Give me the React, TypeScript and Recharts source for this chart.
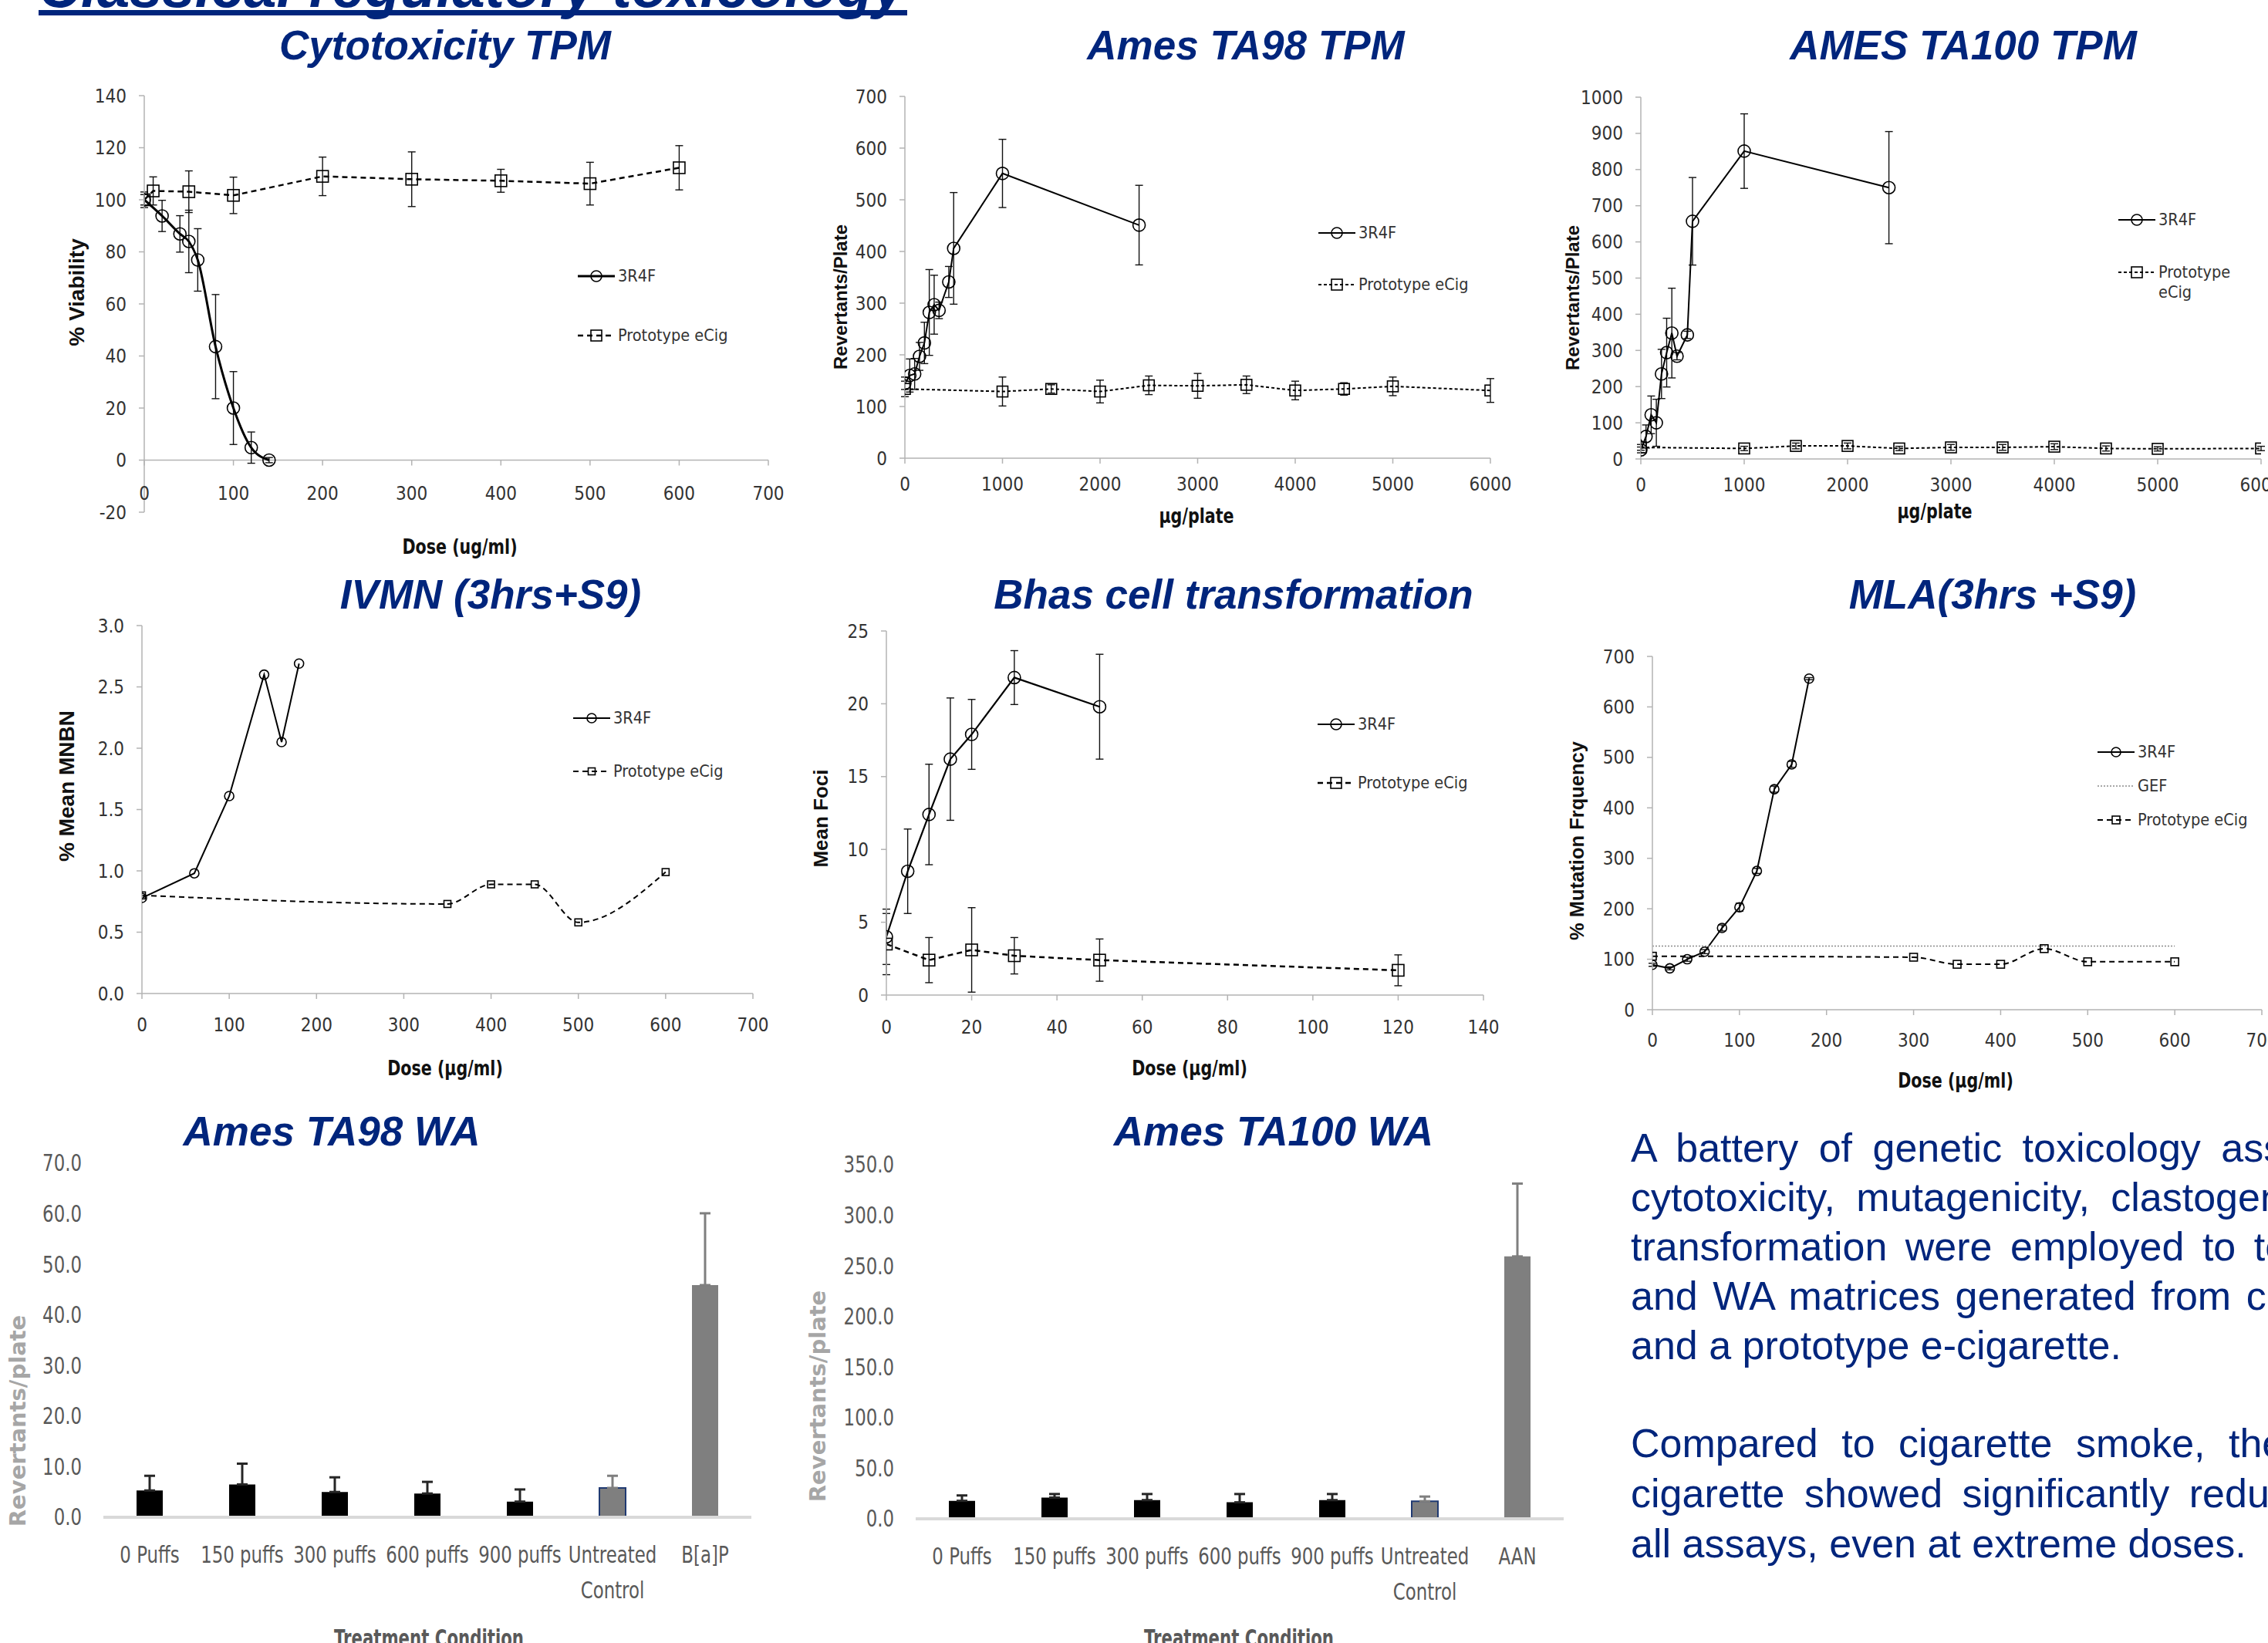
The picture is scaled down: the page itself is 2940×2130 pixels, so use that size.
import React from "react";
import {
  LineChart,
  Line,
  XAxis,
  YAxis,
  ErrorBar,
  Legend,
  ReferenceLine,
  BarChart,
  Bar,
  Cell,
} from "recharts";

const NAVY = "#00257c";
const NARROW = "'Liberation Sans Narrow', 'Arial Narrow', 'DejaVu Sans Condensed', sans-serif";
const SANS = "'Liberation Sans', Arial, sans-serif";
const AXIS = "#b3b3b3";

// --- Cytotoxicity TPM
const cytoDose3R4F = [0, 20, 40, 50, 60, 80, 100, 120, 140];
const cytoVia3R4F = [100, 93.8, 86.9, 84.0, 76.9, 43.6, 20.0, 4.8, 0];
const cytoErr3R4F = [2, 6, 7, 12, 12, 20, 14, 6, 1];
const cytoDoseEcig = [0, 10, 50, 100, 200, 300, 400, 500, 600];
const cytoViaEcig = [100, 103.4, 103.1, 101.7, 109, 107.9, 107.3, 106.2, 112.3];
const cytoErrEcig = [3, 5.4, 8, 7, 7.4, 10.5, 4.4, 8.2, 8.5];
const cytoYTicks = [-20, 0, 20, 40, 60, 80, 100, 120, 140];
const doseTicks700 = [0, 100, 200, 300, 400, 500, 600, 700];

// --- Ames TPM (shared doses)
const amesDose3R4F = [0, 50, 100, 150, 200, 250, 300, 350, 450, 500, 1000, 2400];
const amesDoseEcig = [0, 1000, 1500, 2000, 2500, 3000, 3500, 4000, 4500, 5000, 6000];
const plateTicks = [0, 1000, 2000, 3000, 4000, 5000, 6000];

const ta98Rev3R4F = [145, 160, 163, 197, 223, 282, 297, 286, 341, 406, 551, 451];
const ta98Err3R4F = [12, 32, 30, 27, 40, 83, 57, 16, 30, 108, 66, 77];
const ta98RevEcig = [134, 129, 134, 129, 141, 140, 142, 131, 134, 139, 131];
const ta98ErrEcig = [15, 28, 8, 22, 18, 24, 17, 18, 12, 18, 23];
const ta98YTicks = [0, 100, 200, 300, 400, 500, 600, 700];

const ta100Rev3R4F = [25, 62, 122, 100, 235, 294, 348, 284, 343, 657, 851, 750];
const ta100Err3R4F = [8, 32, 52, 65, 68, 95, 124, 10, 10, 121, 103, 155];
const ta100RevEcig = [32, 29, 36, 36, 29, 32, 32, 34, 29, 28, 29];
const ta100ErrEcig = [8, 6, 8, 8, 6, 8, 8, 8, 7, 6, 6];
const ta100YTicks = [0, 100, 200, 300, 400, 500, 600, 700, 800, 900, 1000];

// --- IVMN
const ivmnDose3R4F = [0, 60, 100, 140, 160, 180];
const ivmn3R4F = [0.78, 0.98, 1.61, 2.6, 2.05, 2.69];
const ivmnDoseEcig = [0, 350, 400, 450, 500, 600];
const ivmnEcig = [0.8, 0.73, 0.89, 0.89, 0.58, 0.99];
const ivmnYTicks = [0, 0.5, 1, 1.5, 2, 2.5, 3];

// --- Bhas
const bhasDose3R4F = [0, 5, 10, 15, 20, 30, 50];
const bhas3R4F = [4.0, 8.5, 12.4, 16.2, 17.9, 21.8, 19.8];
const bhasErr3R4F = [1.9, 2.9, 3.45, 4.2, 2.4, 1.85, 3.6];
const bhasDoseEcig = [0, 10, 20, 30, 50, 120];
const bhasEcig = [3.5, 2.4, 3.1, 2.7, 2.4, 1.7];
const bhasErrEcig = [2.1, 1.55, 2.9, 1.25, 1.45, 1.06];
const bhasYTicks = [0, 5, 10, 15, 20, 25];
const bhasXTicks = [0, 20, 40, 60, 80, 100, 120, 140];

// --- MLA
const mlaDose3R4F = [0, 20, 40, 60, 80, 100, 120, 140, 160, 180];
const mla3R4F = [89, 82, 100, 115, 162, 203, 275, 437, 486, 656];
const mlaErr3R4F = [3, 3, 4, 4, 6, 8, 5, 6, 6, 2];
const gefDose = [0, 600];
const gefLevel = [126, 126];
const mlaDoseEcig = [0, 300, 350, 400, 450, 500, 600];
const mlaEcig = [106, 104, 90, 90, 121, 95, 95];
const mlaYTicks = [0, 100, 200, 300, 400, 500, 600, 700];

// --- Ames WA bar charts
const waGroups = ["WA", "WA", "WA", "WA", "WA", "control", "positive"];
const ta98WaCats = ["0 Puffs", "150 puffs", "300 puffs", "600 puffs", "900 puffs", "Untreated Control", "B[a]P"];
const ta98WaMean = [5.3, 6.5, 5.0, 4.7, 3.1, 5.8, 45.9];
const ta98WaErr = [2.9, 4.1, 2.9, 2.3, 2.4, 2.4, 14.2];
const ta98WaTicks = [0, 10, 20, 30, 40, 50, 60, 70];
const ta100WaCats = ["0 Puffs", "150 puffs", "300 puffs", "600 puffs", "900 puffs", "Untreated Control", "AAN"];
const ta100WaMean = [17.8, 21, 18.5, 16.3, 18.5, 17.4, 259.4];
const ta100WaErr = [5.3, 3.5, 6, 8.2, 6, 4.6, 72];
const ta100WaTicks = [0, 50, 100, 150, 200, 250, 300, 350];

type Pt = { x: number; y: number; e?: number };
const zip = (xs: number[], ys: number[], es?: number[]): Pt[] =>
  xs.map((x, i) => ({ x, y: ys[i], e: es ? es[i] : undefined }));

type SeriesDef = {
  name: string;
  pts: Pt[];
  dash?: string;
  sw: number;
  marker: "circle" | "square" | "none";
  size: number;
  curve?: "linear" | "monotone";
  color?: string;
  err?: boolean;
};
type Box = { x0: number; x1: number; y0: number; y1: number };
type LegendPos = { left: number; top: number; pitch: number; textWidth?: number };

const PAD = { l: 140, r: 50, t: 24, b: 90 };

function Marker({ cx, cy, kind, size, color }: any) {
  if (cx == null || cy == null || kind === "none") return null;
  if (kind === "circle")
    return <circle cx={cx} cy={cy} r={size} fill="none" stroke={color} strokeWidth={1.6} />;
  return (
    <rect x={cx - size} y={cy - size} width={size * 2} height={size * 2} fill="none" stroke={color} strokeWidth={1.6} />
  );
}

// condensed text: squeeze horizontally around its anchor point
function CText({ x, y, sx, children, ...rest }: any) {
  return (
    <text transform={`translate(${x} ${y}) scale(${sx} 1)`} x={0} y={0} {...rest}>
      {children}
    </text>
  );
}

function LegendBox({ series, pos }: { series: SeriesDef[]; pos: LegendPos }) {
  return (
    <div style={{ display: "flex", flexDirection: "column", rowGap: pos.pitch - 26, fontFamily: NARROW, fontSize: 21.5, color: "#333" }}>
      {series.map((s) => (
        <div key={s.name} style={{ display: "flex", alignItems: "flex-start" }}>
          <svg width={48} height={26} style={{ flex: "none" }}>
            <line x1={0} y1={13} x2={48} y2={13} stroke={s.color ?? "#000"} strokeWidth={s.sw} strokeDasharray={s.dash} />
            <Marker cx={24} cy={13} kind={s.marker} size={Math.min(s.size, 7)} color={s.color ?? "#000"} />
          </svg>
          <span style={{ marginLeft: 4, lineHeight: "26px", width: pos.textWidth, whiteSpace: pos.textWidth ? "normal" : "nowrap" }}>
            {s.name}
          </span>
        </div>
      ))}
    </div>
  );
}

function LinePanel(props: {
  box: Box;
  xDomain: [number, number];
  xTicks: number[];
  yDomain: [number, number];
  yTicks: number[];
  yFmt?: (v: number) => string;
  series: SeriesDef[];
  labelGap: number;
  legend: LegendPos;
  zeroAxis?: boolean;
}) {
  const { box, legend } = props;
  const left = box.x0 - PAD.l;
  const top = box.y0 - PAD.t;
  const width = box.x1 - box.x0 + PAD.l + PAD.r;
  const height = box.y1 - box.y0 + PAD.t + PAD.b;
  const [ymin, ymax] = props.yDomain;
  const zeroOff = props.zeroAxis ? ((box.y1 - box.y0) * (0 - ymin)) / (ymax - ymin) : 0;

  const XTick = (p: any) => {
    const ya = p.y - zeroOff;
    return (
      <g>
        <line x1={p.x} x2={p.x} y1={ya} y2={ya + 7} stroke={AXIS} strokeWidth={1.5} />
        <text x={p.x} y={ya + props.labelGap} dy="0.71em" textAnchor="middle" fontSize={24} fontFamily={NARROW} fill="#333">
          {p.payload.value}
        </text>
      </g>
    );
  };

  return (
    <div style={{ position: "absolute", left, top }}>
      <LineChart width={width} height={height} margin={{ top: PAD.t, right: PAD.r, bottom: 0, left: 0 }}>
        <XAxis
          type="number"
          dataKey="x"
          domain={props.xDomain}
          ticks={props.xTicks}
          interval={0}
          allowDataOverflow
          height={PAD.b}
          axisLine={props.zeroAxis ? false : { stroke: AXIS, strokeWidth: 1.5 }}
          tickLine={false}
          tickSize={0}
          tickMargin={0}
          tick={XTick}
        />
        <YAxis
          type="number"
          domain={props.yDomain}
          ticks={props.yTicks}
          interval={0}
          allowDataOverflow
          width={PAD.l}
          axisLine={{ stroke: AXIS, strokeWidth: 1.5 }}
          tickLine={{ stroke: AXIS, strokeWidth: 1.5 }}
          tickSize={7}
          tickMargin={16}
          tick={{ fontSize: 24, fontFamily: NARROW, fill: "#333" }}
          tickFormatter={props.yFmt}
        />
        {props.zeroAxis && <ReferenceLine y={0} stroke={AXIS} strokeWidth={1.5} />}
        {props.series.map((s) => (
          <Line
            key={s.name}
            data={s.pts}
            dataKey="y"
            name={s.name}
            type={s.curve ?? "linear"}
            stroke={s.color ?? "#000"}
            strokeWidth={s.sw}
            strokeDasharray={s.dash}
            dot={(d: any) => (
              <Marker key={`${s.name}-${d.index}`} cx={d.cx} cy={d.cy} kind={s.marker} size={s.size} color={s.color ?? "#000"} />
            )}
            activeDot={false}
            isAnimationActive={false}
          >
            {s.err && <ErrorBar dataKey="e" direction="y" width={5} stroke="#111" strokeWidth={1.4} />}
          </Line>
        ))}
        <Legend
          layout="vertical"
          align="center"
          verticalAlign="middle"
          wrapperStyle={{ left: legend.left - left, top: legend.top - top }}
          content={() => <LegendBox series={props.series} pos={legend} />}
        />
      </LineChart>
    </div>
  );
}

const PADB = { l: 140, r: 30, t: 30, b: 140 };
const SQUEEZE = 0.82;

function BarPanel(props: { box: Box; cats: string[]; means: number[]; errs: number[]; yTicks: number[] }) {
  const { box } = props;
  const left = box.x0 - PADB.l;
  const top = box.y0 - PADB.t;
  const width = box.x1 - box.x0 + PADB.l + PADB.r;
  const height = box.y1 - box.y0 + PADB.t + PADB.b;
  const rows = props.cats.map((c, i) => {
    const wa = waGroups[i] === "WA";
    return {
      c,
      wa: wa ? props.means[i] : null,
      ctl: wa ? null : props.means[i],
      waE: wa ? [0, props.errs[i]] : null,
      ctlE: wa ? null : [0, props.errs[i]],
    };
  });
  const yMax = props.yTicks[props.yTicks.length - 1];

  const BarTick = (p: any) => {
    const v = String(p.payload.value);
    const lines = v.length > 12 ? v.split(" ") : [v];
    return (
      <g>
        {lines.map((l, i) => (
          <CText key={i} x={p.x} y={p.y + 59 + i * 46} sx={SQUEEZE} textAnchor="middle" fontSize={31} fontFamily={NARROW} fill="#595959">
            {l}
          </CText>
        ))}
      </g>
    );
  };
  const YTick = (p: any) => (
    <CText x={p.x} y={p.y} sx={SQUEEZE} textAnchor="end" dominantBaseline="central" fontSize={31} fontFamily={NARROW} fill="#595959">
      {Number(p.payload.value).toFixed(1)}
    </CText>
  );

  return (
    <div style={{ position: "absolute", left, top }}>
      <BarChart width={width} height={height} data={rows} margin={{ top: PADB.t, right: PADB.r, bottom: 0, left: 0 }}>
        <XAxis
          xAxisId="a"
          dataKey="c"
          height={PADB.b}
          interval={0}
          axisLine={{ stroke: "#d9d9d9", strokeWidth: 4 }}
          tickLine={false}
          tickSize={0}
          tickMargin={0}
          tick={BarTick}
        />
        <XAxis xAxisId="b" dataKey="c" hide />
        <YAxis
          domain={[0, yMax]}
          ticks={props.yTicks}
          interval={0}
          allowDataOverflow
          width={PADB.l}
          axisLine={false}
          tickLine={false}
          tickSize={0}
          tickMargin={28}
          tick={YTick}
        />
        <Bar xAxisId="a" dataKey="wa" fill="#000" barSize={34} isAnimationActive={false}>
          <ErrorBar dataKey="waE" direction="y" width={7} stroke="#262626" strokeWidth={3} />
        </Bar>
        <Bar xAxisId="b" dataKey="ctl" fill="#7f7f7f" barSize={34} isAnimationActive={false}>
          {rows.map((r, i) => (
            <Cell key={i} stroke={waGroups[i] === "control" ? "#203a72" : "none"} strokeWidth={2} />
          ))}
          <ErrorBar dataKey="ctlE" direction="y" width={7} stroke="#7f7f7f" strokeWidth={3} />
        </Bar>
      </BarChart>
    </div>
  );
}

const titles: [string, number, number][] = [
  ["Cytotoxicity TPM", 577, 77],
  ["Ames TA98 TPM", 1615, 77],
  ["AMES TA100 TPM", 2545, 77],
  ["IVMN (3hrs+S9)", 636, 789],
  ["Bhas cell transformation", 1599, 789],
  ["MLA(3hrs +S9)", 2583, 789],
  ["Ames TA98 WA", 430, 1485],
  ["Ames TA100 WA", 1651, 1485],
];

const xTitles: [string, number, number][] = [
  ["Dose (ug/ml)", 596, 709],
  ["µg/plate", 1551, 669],
  ["µg/plate", 2508, 663],
  ["Dose (µg/ml)", 577, 1385],
  ["Dose (µg/ml)", 1542, 1385],
  ["Dose (µg/ml)", 2535, 1401],
];

const yTitles: [string, number, number, number][] = [
  ["% Viability", 99, 379, 28],
  ["Revertants/Plate", 1089, 385, 24],
  ["Revertants/Plate", 2038, 386, 24],
  ["% Mean MNBN", 86, 1019, 28],
  ["Mean Foci", 1064, 1061, 26],
  ["% Mutation Frquency", 2044, 1090, 25.5],
];

const paragraph: [string, number, number][] = [
  ["A battery of genetic toxicology assays", 1506, 12],
  ["cytotoxicity, mutagenicity, clastogenicity", 1570, 13],
  ["transformation were employed to test", 1634, 9],
  ["and WA matrices generated from cigarette", 1698, 5],
  ["and a prototype e-cigarette.", 1762, 0],
  ["Compared to cigarette smoke, the", 1889, 16],
  ["cigarette showed significantly reduced", 1954, 11],
  ["all assays, even at extreme doses.", 2019, 0],
];

export default function App() {
  const s3R4F = (pts: Pt[], sw: number, r: number, err: boolean, curve: "linear" | "monotone" = "linear"): SeriesDef => ({
    name: "3R4F", pts, sw, marker: "circle", size: r, err, curve,
  });
  const sEcig = (pts: Pt[], sw: number, dash: string, half: number, err: boolean, curve: "linear" | "monotone" = "linear"): SeriesDef => ({
    name: "Prototype eCig", pts, sw, dash, marker: "square", size: half, err, curve,
  });

  return (
    <div style={{ position: "fixed", left: 0, top: 0, width: 2940, height: 2130, overflow: "hidden", background: "#fff" }}>
      <svg width={2940} height={2130} style={{ position: "absolute", left: 0, top: 0 }}>
        <text x={50} y={9} fontSize={76} fontWeight="bold" fontStyle="italic" fontFamily={SANS} fill={NAVY}>
          Classical regulatory toxicology
        </text>
        <rect x={50} y={13} width={1126} height={7} fill={NAVY} />
        {titles.map(([t, x, y]) => (
          <text key={t} x={x} y={y} textAnchor="middle" fontSize={53} fontWeight="bold" fontStyle="italic" fontFamily={SANS} fill={NAVY}>
            {t}
          </text>
        ))}
        {xTitles.map(([t, x, y], i) => (
          <CText key={i} x={x} y={y} sx={0.85} textAnchor="middle" dominantBaseline="central" fontSize={27} fontWeight="bold" fontFamily={NARROW} fill="#111">
            {t}
          </CText>
        ))}
        {yTitles.map(([t, x, y, fs], i) => (
          <text key={i} x={x} y={y} textAnchor="middle" dominantBaseline="central" fontSize={fs} fontWeight="bold" fontFamily={SANS} fill="#111" transform={`rotate(-90 ${x} ${y})`}>
            {t}
          </text>
        ))}
        {[[556, 2124], [1606, 2124]].map(([x, y], i) => (
          <CText key={i} x={x} y={y} sx={0.74} textAnchor="middle" dominantBaseline="central" fontSize={32} fontWeight="bold" fontFamily={NARROW} fill="#595959">
            Treatment Condition
          </CText>
        ))}
        {[[23, 1842], [1060, 1810]].map(([x, y], i) => (
          <text key={i} x={x} y={y} textAnchor="middle" dominantBaseline="central" fontSize={29} fontWeight="bold" fontFamily="'DejaVu Sans', sans-serif" fill="#a6a6a6" transform={`rotate(-90 ${x} ${y})`}>
            Revertants/plate
          </text>
        ))}
        {paragraph.map(([t, y, ws], i) => (
          <text key={i} x={2114} y={y} fontSize={52} fontFamily={SANS} fill={NAVY} style={{ wordSpacing: ws }}>
            {t}
          </text>
        ))}
      </svg>

      <LinePanel
        box={{ x0: 187, x1: 996, y0: 124, y1: 664 }}
        xDomain={[0, 700]}
        xTicks={doseTicks700}
        yDomain={[-20, 140]}
        yTicks={cytoYTicks}
        labelGap={34}
        zeroAxis
        legend={{ left: 749, top: 345, pitch: 77 }}
        series={[
          s3R4F(zip(cytoDose3R4F, cytoVia3R4F, cytoErr3R4F), 3, 8, true, "monotone"),
          sEcig(zip(cytoDoseEcig, cytoViaEcig, cytoErrEcig), 2.5, "7 5", 7.5, true),
        ]}
      />
      <LinePanel
        box={{ x0: 1173, x1: 1932, y0: 125, y1: 594 }}
        xDomain={[0, 6000]}
        xTicks={plateTicks}
        yDomain={[0, 700]}
        yTicks={ta98YTicks}
        labelGap={25}
        legend={{ left: 1709, top: 289, pitch: 67 }}
        series={[
          s3R4F(zip(amesDose3R4F, ta98Rev3R4F, ta98Err3R4F), 2, 8, true),
          sEcig(zip(amesDoseEcig, ta98RevEcig, ta98ErrEcig), 2, "4 3", 7, true),
        ]}
      />
      <LinePanel
        box={{ x0: 2127, x1: 2931, y0: 126, y1: 595 }}
        xDomain={[0, 6000]}
        xTicks={plateTicks}
        yDomain={[0, 1000]}
        yTicks={ta100YTicks}
        labelGap={25}
        legend={{ left: 2746, top: 272, pitch: 68, textWidth: 100 }}
        series={[
          s3R4F(zip(amesDose3R4F, ta100Rev3R4F, ta100Err3R4F), 2, 8, true),
          sEcig(zip(amesDoseEcig, ta100RevEcig, ta100ErrEcig), 2, "4 3", 7, true),
        ]}
      />
      <LinePanel
        box={{ x0: 184, x1: 976, y0: 811, y1: 1288 }}
        xDomain={[0, 700]}
        xTicks={doseTicks700}
        yDomain={[0, 3]}
        yTicks={ivmnYTicks}
        yFmt={(v) => v.toFixed(1)}
        labelGap={32}
        legend={{ left: 743, top: 918, pitch: 69 }}
        series={[
          s3R4F(zip(ivmnDose3R4F, ivmn3R4F), 2, 6, false),
          sEcig(zip(ivmnDoseEcig, ivmnEcig), 2, "7 5", 4.5, false, "monotone"),
        ]}
      />
      <LinePanel
        box={{ x0: 1149, x1: 1923, y0: 818, y1: 1290 }}
        xDomain={[0, 140]}
        xTicks={bhasXTicks}
        yDomain={[0, 25]}
        yTicks={bhasYTicks}
        labelGap={33}
        legend={{ left: 1708, top: 926, pitch: 76 }}
        series={[
          s3R4F(zip(bhasDose3R4F, bhas3R4F, bhasErr3R4F), 2.2, 8, true),
          sEcig(zip(bhasDoseEcig, bhasEcig, bhasErrEcig), 2.5, "7 5", 7.5, true),
        ]}
      />
      <LinePanel
        box={{ x0: 2142, x1: 2932, y0: 851, y1: 1309 }}
        xDomain={[0, 700]}
        xTicks={doseTicks700}
        yDomain={[0, 700]}
        yTicks={mlaYTicks}
        labelGap={31}
        legend={{ left: 2719, top: 962, pitch: 44 }}
        series={[
          s3R4F(zip(mlaDose3R4F, mla3R4F, mlaErr3R4F), 2, 6, true),
          { name: "GEF", pts: zip(gefDose, gefLevel), sw: 1.5, dash: "2 2", marker: "none", size: 0, color: "#8c8c8c" },
          sEcig(zip(mlaDoseEcig, mlaEcig), 2, "7 5", 5, false, "monotone"),
        ]}
      />

      <BarPanel box={{ x0: 134, x1: 974, y0: 1508, y1: 1967 }} cats={ta98WaCats} means={ta98WaMean} errs={ta98WaErr} yTicks={ta98WaTicks} />
      <BarPanel box={{ x0: 1187, x1: 2027, y0: 1510, y1: 1969 }} cats={ta100WaCats} means={ta100WaMean} errs={ta100WaErr} yTicks={ta100WaTicks} />
    </div>
  );
}
